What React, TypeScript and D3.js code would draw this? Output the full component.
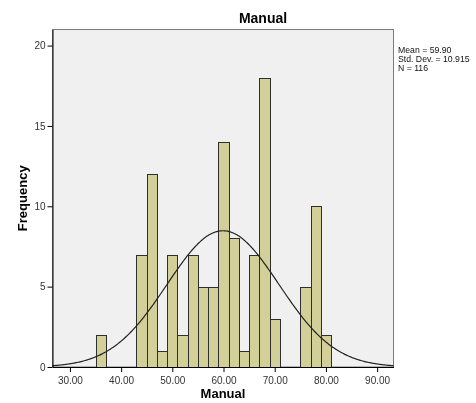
import React, { useEffect, useRef } from 'react';
import * as d3 from 'd3';

// histogram bins (lower edge) and their frequencies
const binLower = [35, 43, 45, 47, 49, 51, 53, 55, 57, 59, 61, 63, 65, 67, 69, 75, 77, 79];
const frequency = [2, 7, 12, 1, 7, 2, 7, 5, 5, 14, 8, 1, 7, 18, 3, 5, 10, 2];
const binWidth = 2;

const xTicks = [30, 40, 50, 60, 70, 80, 90];
const yTicks = [0, 5, 10, 15, 20];

const mean = 59.9;
const stdDev = 10.915;
const n = 116;
const statLines = ['Mean = 59.90', 'Std. Dev. = 10.915', 'N = 116'];

const FONT = '"Liberation Sans", Arial, sans-serif';

export default function App() {
  const ref = useRef<SVGSVGElement>(null);

  useEffect(() => {
    const w = 476;
    const h = 403;
    const left = 52.5, right = 393.5, top = 29.5, bottom = 367;

    const svg = d3.select(ref.current);
    svg.selectAll('*').remove();
    svg.attr('width', w).attr('height', h);

    const x = d3.scaleLinear().domain([26.6, 93.2]).range([left, right]);
    const y = d3.scaleLinear().domain([0, 21]).range([bottom, top]);

    // plot background
    svg.append('rect')
      .attr('x', left)
      .attr('y', top)
      .attr('width', right - left)
      .attr('height', bottom - top)
      .attr('fill', '#f0f0f0')
      .attr('stroke', '#7a7a7a')
      .attr('stroke-width', 1);

    // bars
    svg.append('g')
      .selectAll('rect')
      .data(binLower)
      .enter()
      .append('rect')
      .attr('x', (d) => Math.round(x(d)) + 0.5)
      .attr('y', (d, i) => Math.round(y(frequency[i])) + 0.5)
      .attr('width', (d) => Math.round(x(d + binWidth)) - Math.round(x(d)))
      .attr('height', (d, i) => Math.round(y(0)) - Math.round(y(frequency[i])))
      .attr('fill', '#d3cf98')
      .attr('stroke', '#2e2e2e')
      .attr('stroke-width', 1);

    // normal curve
    const scale = n * binWidth / (stdDev * Math.sqrt(2 * Math.PI));
    const curveX = d3.range(26.6, 93.21, 0.2);
    const line = d3.line<number>()
      .x((d) => x(d))
      .y((d) => y(scale * Math.exp(-0.5 * ((d - mean) / stdDev) ** 2)))
      .curve(d3.curveBasis);
    svg.append('path')
      .datum(curveX)
      .attr('d', line)
      .attr('fill', 'none')
      .attr('stroke', '#222')
      .attr('stroke-width', 1.2);

    // axes
    const xAxis = d3.axisBottom(x)
      .tickValues(xTicks)
      .tickSize(5)
      .tickSizeOuter(0)
      .tickFormat((d) => (d as number).toFixed(2));
    const gx = svg.append('g')
      .attr('transform', `translate(0, ${bottom})`)
      .call(xAxis);
    gx.select('.domain').attr('stroke', '#000');
    gx.selectAll('line').attr('stroke', '#000');
    gx.selectAll('text')
      .attr('font-family', FONT)
      .attr('font-size', 10)
      .attr('fill', '#333')
      .attr('dy', '0.9em');

    const yAxis = d3.axisLeft(y)
      .tickValues(yTicks)
      .tickSize(5)
      .tickSizeOuter(0)
      .tickFormat(d3.format('d'));
    const gy = svg.append('g')
      .attr('transform', `translate(${left}, 0)`)
      .call(yAxis);
    gy.select('.domain').attr('stroke', '#000');
    gy.selectAll('line').attr('stroke', '#000');
    gy.selectAll('text')
      .attr('font-family', FONT)
      .attr('font-size', 10)
      .attr('fill', '#333')
      .attr('x', -7);

    // titles
    svg.append('text')
      .attr('x', 263)
      .attr('y', 23)
      .attr('text-anchor', 'middle')
      .attr('font-family', FONT)
      .attr('font-weight', 'bold')
      .attr('font-size', 14)
      .text('Manual');

    svg.append('text')
      .attr('x', (left + right) / 2)
      .attr('y', 398)
      .attr('text-anchor', 'middle')
      .attr('font-family', FONT)
      .attr('font-weight', 'bold')
      .attr('font-size', 13)
      .text('Manual');

    svg.append('text')
      .attr('transform', `translate(27, ${(top + bottom) / 2}) rotate(-90)`)
      .attr('text-anchor', 'middle')
      .attr('font-family', FONT)
      .attr('font-weight', 'bold')
      .attr('font-size', 13)
      .text('Frequency');

    // stats box
    svg.append('g')
      .selectAll('text')
      .data(statLines)
      .enter()
      .append('text')
      .attr('x', 398)
      .attr('y', (d, i) => 53 + i * 8.8)
      .attr('font-family', FONT)
      .attr('font-size', 8.7)
      .attr('fill', '#111')
      .text((d) => d);
  }, []);

  return (
    <div style={{ position: 'fixed', left: 0, top: 0 }}>
      <svg ref={ref} style={{ display: 'block' }} />
    </div>
  );
}
